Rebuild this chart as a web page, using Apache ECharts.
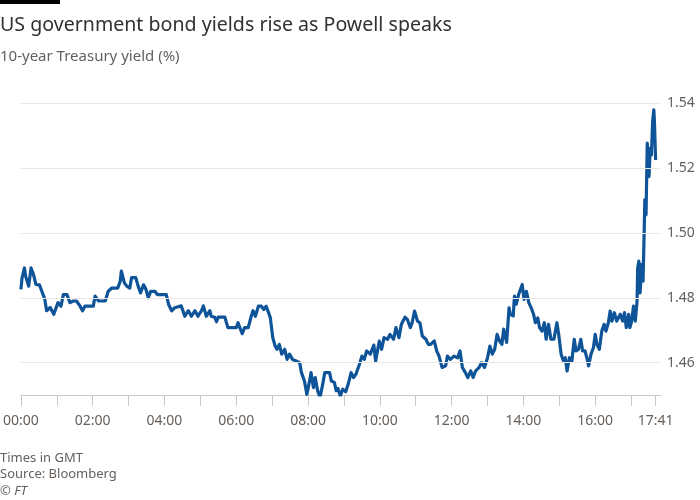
<!DOCTYPE html>
<html>
<head>
<meta charset="utf-8">
<script src="https://cdn.jsdelivr.net/npm/echarts@6/dist/echarts.min.js"></script>
<style>html,body{margin:0;padding:0;background:#fff}#c{width:700px;height:500px}</style>
</head>
<body>
<div id="c"></div>
<script>
// minutes since 00:00 GMT
var minutes = [0,2,6,8,13,17,21,25,31,35,40,43,49,55,57,62,67,71,77,82,88,93,99,103,107,121,124,130,141,146,152,162,166,168,173,177,182,185,192,196,200,205,209,213,217,224,228,234,243,247,252,257,260,268,274,280,285,291,296,302,305,310,316,318,324,327,330,341,346,360,363,366,370,374,380,385,388,392,397,402,406,410,414,417,421,425,428,432,436,441,445,449,454,460,466,469,474,478,482,485,489,492,496,500,505,508,516,519,524,527,530,534,538,543,547,552,556,560,566,570,574,578,584,590,593,599,603,607,613,617,623,627,632,636,642,646,651,654,658,663,667,671,677,681,685,691,695,699,704,710,713,718,724,730,734,738,743,747,752,756,760,766,770,775,780,784,788,792,796,800,804,807,812,816,818,823,825,828,832,838,841,845,849,853,857,860,864,867,871,875,878,882,886,891,896,899,903,907,910,913,917,921,925,928,932,936,939,943,946,949,953,957,960,963,967,971,975,978,982,985,988,992,996,1002,1006,1009,1012,1016,1018,1021,1024,1027,1030,1031,1033,1035,1038,1040,1042,1043,1045,1047,1050,1052,1054,1056,1058,1059,1061];
var yields = [1.4826,1.4862,1.4892,1.4866,1.4836,1.4892,1.4872,1.4841,1.4840,1.4820,1.4795,1.4760,1.4770,1.4749,1.4743,1.4785,1.4774,1.4810,1.4810,1.4785,1.4790,1.4790,1.4774,1.4760,1.4774,1.4774,1.4805,1.4790,1.4790,1.4820,1.4830,1.4830,1.4851,1.4882,1.4846,1.4836,1.4830,1.4862,1.4862,1.4836,1.4815,1.4840,1.4826,1.4800,1.4820,1.4820,1.4810,1.4810,1.4810,1.4779,1.4760,1.4769,1.4770,1.4775,1.4743,1.4760,1.4743,1.4760,1.4743,1.4760,1.4775,1.4743,1.4760,1.4743,1.4740,1.4726,1.4740,1.4740,1.4708,1.4708,1.4723,1.4708,1.4689,1.4708,1.4708,1.4743,1.4760,1.4743,1.4774,1.4774,1.4764,1.4774,1.4754,1.4738,1.4677,1.4651,1.4641,1.4656,1.4626,1.4641,1.4610,1.4626,1.4610,1.4605,1.4600,1.4569,1.4543,1.4502,1.4538,1.4569,1.4523,1.4554,1.4513,1.4492,1.4538,1.4569,1.4569,1.4543,1.4539,1.4513,1.4520,1.4497,1.4518,1.4510,1.4533,1.4569,1.4554,1.4564,1.4595,1.4620,1.4610,1.4636,1.4626,1.4654,1.4605,1.4666,1.4641,1.4677,1.4672,1.4687,1.4672,1.4708,1.4677,1.4718,1.4740,1.4733,1.4708,1.4723,1.4759,1.4728,1.4723,1.4682,1.4672,1.4656,1.4656,1.4667,1.4636,1.4620,1.4585,1.4590,1.4620,1.4610,1.4620,1.4615,1.4636,1.4585,1.4569,1.4554,1.4574,1.4554,1.4574,1.4585,1.4600,1.4585,1.4615,1.4651,1.4626,1.4641,1.4687,1.4667,1.4656,1.4703,1.4662,1.4769,1.4749,1.4744,1.4805,1.4780,1.4810,1.4841,1.4795,1.4820,1.4785,1.4769,1.4749,1.4723,1.4738,1.4708,1.4697,1.4723,1.4672,1.4718,1.4672,1.4672,1.4723,1.4687,1.4626,1.4605,1.4615,1.4574,1.4615,1.4605,1.4672,1.4636,1.4641,1.4672,1.4636,1.4636,1.4615,1.4590,1.4626,1.4646,1.4687,1.4656,1.4641,1.4697,1.4718,1.4697,1.4723,1.4759,1.4728,1.4754,1.4728,1.4749,1.4728,1.4754,1.4708,1.4749,1.4708,1.4728,1.4774,1.4728,1.4790,1.4892,1.4913,1.4815,1.4903,1.4851,1.5015,1.5103,1.5056,1.5277,1.5174,1.5262,1.5241,1.5344,1.5380,1.5344,1.5225];
var xLabelValues = [0,120,240,360,480,600,720,840,960,1061];
var xTickValues = [0,60,120,180,240,300,360,420,480,540,600,660,720,780,840,900,960,1020,1061];
var yTickValues = [1.46,1.48,1.50,1.52,1.54];

var FONT = '"Noto Sans", "Open Sans", sans-serif';
var GREY = '#66605c';

function hhmm(m){var h=Math.floor(m/60),mm=Math.round(m%60);return (h<10?'0':'')+h+':'+(mm<10?'0':'')+mm;}

var seriesData = minutes.map(function(m,i){return [m, yields[i]];});

var chart = echarts.init(document.getElementById('c'), null, {renderer:'canvas'});
chart.setOption({
  animation:false,
  backgroundColor:'#fff',
  grid:{left:19,right:39,top:103.3,bottom:105,containLabel:false},
  xAxis:{
    type:'value', min:0, max:1070,
    axisLine:{show:true,lineStyle:{color:'#cdc7c2',width:1}},
    axisTick:{show:true,customValues:xTickValues,length:11,lineStyle:{color:'#cdc7c2',width:1}},
    axisLabel:{customValues:xLabelValues,formatter:function(v){return hhmm(v);},color:GREY,fontSize:14,fontFamily:FONT,margin:19},
    splitLine:{show:false}
  },
  yAxis:{
    type:'value', position:'right', min:1.45, max:1.54,
    axisLine:{show:false}, axisTick:{show:false},
    axisLabel:{customValues:yTickValues,formatter:function(v){return v.toFixed(2);},color:GREY,fontSize:14,fontFamily:FONT,margin:6,align:'left'},
    splitLine:{show:false}
  },
  series:[
    {type:'line',data:[],z:1,silent:true,
     markLine:{silent:true,symbol:'none',label:{show:false},animation:false,
       lineStyle:{color:'#ece6e1',width:1,type:'solid'},
       data:yTickValues.map(function(v){return {yAxis:v};})}},
    {type:'line',data:seriesData,z:3,showSymbol:false,symbol:'none',
     lineStyle:{color:'#0f5499',width:3.2,join:'round'}}
  ],
  graphic:[
    {type:'rect',left:0,top:0,shape:{width:60,height:4},style:{fill:'#000'}},
    {type:'text',left:0,top:15,style:{text:'US government bond yields rise as Powell speaks',fill:'#33302e',font:'19.6px '+FONT}},
    {type:'text',left:0,top:49,style:{text:'10-year Treasury yield (%)',fill:GREY,font:'15px '+FONT}},
    {type:'text',left:0,top:452,style:{text:'Times in GMT',fill:GREY,font:'13px '+FONT}},
    {type:'text',left:0,top:468,style:{text:'Source: Bloomberg',fill:GREY,font:'13px '+FONT}},
    {type:'text',left:0,top:485,style:{text:'© FT',fill:GREY,font:'italic 13px '+FONT}}
  ]
});
</script>
</body>
</html>
